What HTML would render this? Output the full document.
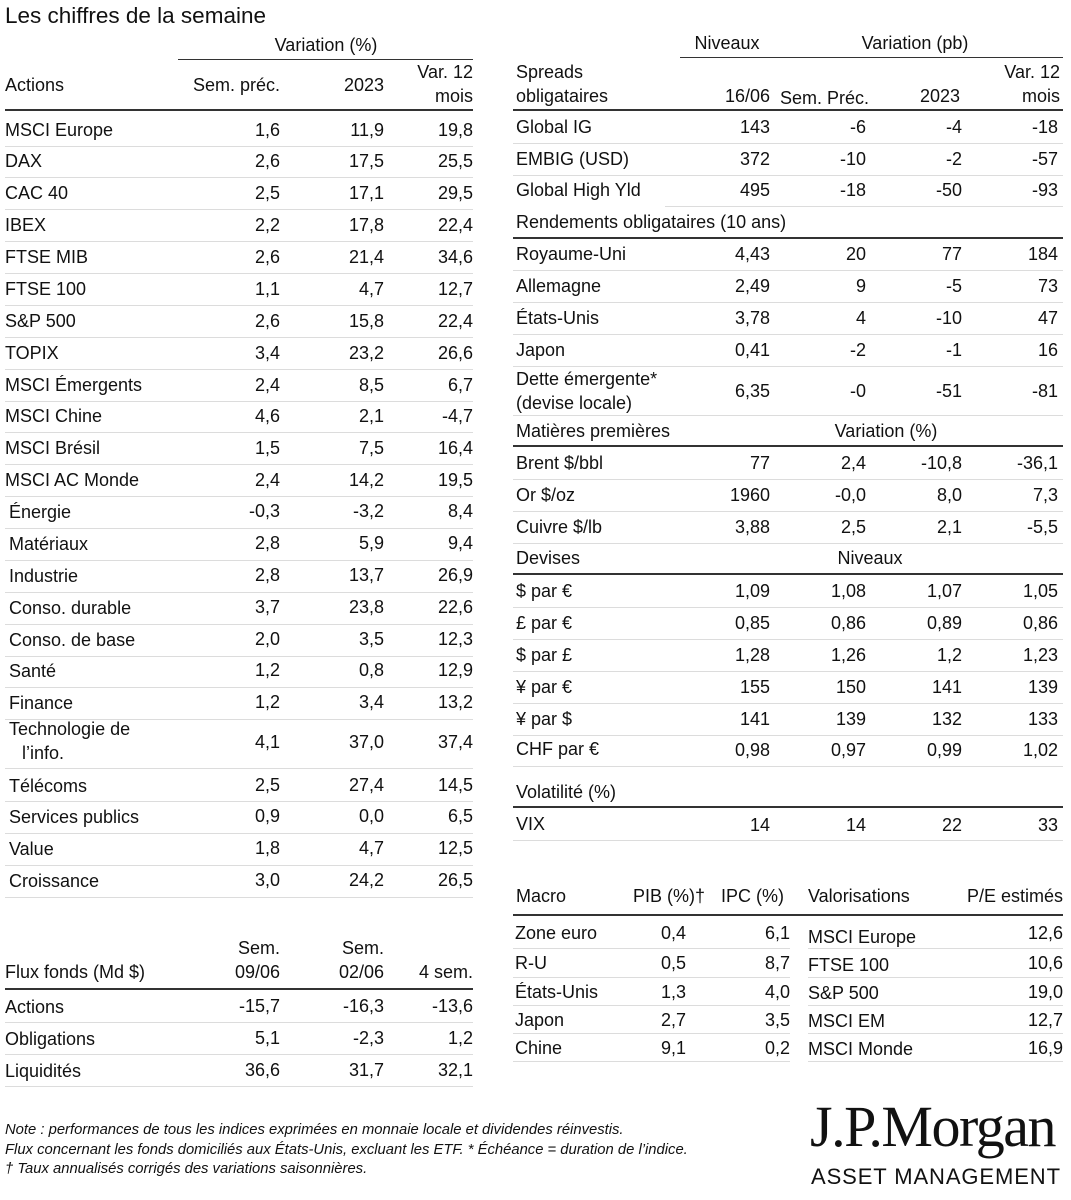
<!DOCTYPE html>
<html><head><meta charset="utf-8"><style>
body{margin:0;width:1071px;height:1200px;background:#fff;position:relative;overflow:hidden;font-family:"Liberation Sans",sans-serif;font-size:18px;color:#111}
.t{position:absolute;line-height:22px;white-space:nowrap}
.h{position:absolute;height:0;border-top:1px solid #dcdcdc}
.k{position:absolute;height:0;border-top:2px solid #333}
</style></head><body>
<div class="t" style="left:5px;top:5px;font-size:22.5px">Les chiffres de la semaine</div>

<!-- Left header -->
<div class="t" style="left:226px;top:34px;width:200px;text-align:center">Variation (%)</div>
<div class="k" style="left:178px;width:295px;top:59px;border-top-width:1.5px"></div>
<div class="t" style="left:5px;top:74px">Actions</div>
<div class="t" style="right:791px;top:74px">Sem. préc.</div>
<div class="t" style="right:687px;top:74px">2023</div>
<div class="t" style="right:598px;top:61px">Var. 12</div>
<div class="t" style="right:598px;top:85px">mois</div>
<div class="k" style="left:5px;width:468px;top:109px"></div>

<!-- Left rows -->
<div class="t" style="left:5px;top:119px">MSCI Europe</div><div class="t" style="right:791px;top:119px">1,6</div><div class="t" style="right:687px;top:119px">11,9</div><div class="t" style="right:598px;top:119px">19,8</div><div class="h" style="left:5px;width:468px;top:146px"></div>
<div class="t" style="left:5px;top:150px">DAX</div><div class="t" style="right:791px;top:150px">2,6</div><div class="t" style="right:687px;top:150px">17,5</div><div class="t" style="right:598px;top:150px">25,5</div><div class="h" style="left:5px;width:468px;top:177px"></div>
<div class="t" style="left:5px;top:182px">CAC 40</div><div class="t" style="right:791px;top:182px">2,5</div><div class="t" style="right:687px;top:182px">17,1</div><div class="t" style="right:598px;top:182px">29,5</div><div class="h" style="left:5px;width:468px;top:209px"></div>
<div class="t" style="left:5px;top:214px">IBEX</div><div class="t" style="right:791px;top:214px">2,2</div><div class="t" style="right:687px;top:214px">17,8</div><div class="t" style="right:598px;top:214px">22,4</div><div class="h" style="left:5px;width:468px;top:241px"></div>
<div class="t" style="left:5px;top:246px">FTSE MIB</div><div class="t" style="right:791px;top:246px">2,6</div><div class="t" style="right:687px;top:246px">21,4</div><div class="t" style="right:598px;top:246px">34,6</div><div class="h" style="left:5px;width:468px;top:273px"></div>
<div class="t" style="left:5px;top:278px">FTSE 100</div><div class="t" style="right:791px;top:278px">1,1</div><div class="t" style="right:687px;top:278px">4,7</div><div class="t" style="right:598px;top:278px">12,7</div><div class="h" style="left:5px;width:468px;top:305px"></div>
<div class="t" style="left:5px;top:310px">S&amp;P 500</div><div class="t" style="right:791px;top:310px">2,6</div><div class="t" style="right:687px;top:310px">15,8</div><div class="t" style="right:598px;top:310px">22,4</div><div class="h" style="left:5px;width:468px;top:337px"></div>
<div class="t" style="left:5px;top:342px">TOPIX</div><div class="t" style="right:791px;top:342px">3,4</div><div class="t" style="right:687px;top:342px">23,2</div><div class="t" style="right:598px;top:342px">26,6</div><div class="h" style="left:5px;width:468px;top:369px"></div>
<div class="t" style="left:5px;top:374px">MSCI Émergents</div><div class="t" style="right:791px;top:374px">2,4</div><div class="t" style="right:687px;top:374px">8,5</div><div class="t" style="right:598px;top:374px">6,7</div><div class="h" style="left:5px;width:468px;top:401px"></div>
<div class="t" style="left:5px;top:405px">MSCI Chine</div><div class="t" style="right:791px;top:405px">4,6</div><div class="t" style="right:687px;top:405px">2,1</div><div class="t" style="right:598px;top:405px">-4,7</div><div class="h" style="left:5px;width:468px;top:432px"></div>
<div class="t" style="left:5px;top:437px">MSCI Brésil</div><div class="t" style="right:791px;top:437px">1,5</div><div class="t" style="right:687px;top:437px">7,5</div><div class="t" style="right:598px;top:437px">16,4</div><div class="h" style="left:5px;width:468px;top:464px"></div>
<div class="t" style="left:5px;top:469px">MSCI AC Monde</div><div class="t" style="right:791px;top:469px">2,4</div><div class="t" style="right:687px;top:469px">14,2</div><div class="t" style="right:598px;top:469px">19,5</div><div class="h" style="left:5px;width:468px;top:496px"></div>
<div class="t" style="left:9px;top:501px">Énergie</div><div class="t" style="right:791px;top:500px">-0,3</div><div class="t" style="right:687px;top:500px">-3,2</div><div class="t" style="right:598px;top:500px">8,4</div><div class="h" style="left:5px;width:468px;top:528px"></div>
<div class="t" style="left:9px;top:533px">Matériaux</div><div class="t" style="right:791px;top:532px">2,8</div><div class="t" style="right:687px;top:532px">5,9</div><div class="t" style="right:598px;top:532px">9,4</div><div class="h" style="left:5px;width:468px;top:560px"></div>
<div class="t" style="left:9px;top:565px">Industrie</div><div class="t" style="right:791px;top:564px">2,8</div><div class="t" style="right:687px;top:564px">13,7</div><div class="t" style="right:598px;top:564px">26,9</div><div class="h" style="left:5px;width:468px;top:592px"></div>
<div class="t" style="left:9px;top:597px">Conso. durable</div><div class="t" style="right:791px;top:596px">3,7</div><div class="t" style="right:687px;top:596px">23,8</div><div class="t" style="right:598px;top:596px">22,6</div><div class="h" style="left:5px;width:468px;top:624px"></div>
<div class="t" style="left:9px;top:629px">Conso. de base</div><div class="t" style="right:791px;top:628px">2,0</div><div class="t" style="right:687px;top:628px">3,5</div><div class="t" style="right:598px;top:628px">12,3</div><div class="h" style="left:5px;width:468px;top:656px"></div>
<div class="t" style="left:9px;top:660px">Santé</div><div class="t" style="right:791px;top:659px">1,2</div><div class="t" style="right:687px;top:659px">0,8</div><div class="t" style="right:598px;top:659px">12,9</div><div class="h" style="left:5px;width:468px;top:687px"></div>
<div class="t" style="left:9px;top:692px">Finance</div><div class="t" style="right:791px;top:691px">1,2</div><div class="t" style="right:687px;top:691px">3,4</div><div class="t" style="right:598px;top:691px">13,2</div><div class="h" style="left:5px;width:468px;top:719px"></div>
<div class="t" style="left:9px;top:718px">Technologie de</div><div class="t" style="left:22px;top:742px">l’info.</div><div class="t" style="right:791px;top:731px">4,1</div><div class="t" style="right:687px;top:731px">37,0</div><div class="t" style="right:598px;top:731px">37,4</div><div class="h" style="left:5px;width:468px;top:768px"></div>
<div class="t" style="left:9px;top:775px">Télécoms</div><div class="t" style="right:791px;top:774px">2,5</div><div class="t" style="right:687px;top:774px">27,4</div><div class="t" style="right:598px;top:774px">14,5</div><div class="h" style="left:5px;width:468px;top:801px"></div>
<div class="t" style="left:9px;top:806px">Services publics</div><div class="t" style="right:791px;top:805px">0,9</div><div class="t" style="right:687px;top:805px">0,0</div><div class="t" style="right:598px;top:805px">6,5</div><div class="h" style="left:5px;width:468px;top:833px"></div>
<div class="t" style="left:9px;top:838px">Value</div><div class="t" style="right:791px;top:837px">1,8</div><div class="t" style="right:687px;top:837px">4,7</div><div class="t" style="right:598px;top:837px">12,5</div><div class="h" style="left:5px;width:468px;top:865px"></div>
<div class="t" style="left:9px;top:870px">Croissance</div><div class="t" style="right:791px;top:869px">3,0</div><div class="t" style="right:687px;top:869px">24,2</div><div class="t" style="right:598px;top:869px">26,5</div><div class="h" style="left:5px;width:468px;top:897px"></div>

<!-- Flux -->
<div class="t" style="right:791px;top:937px">Sem.</div><div class="t" style="right:791px;top:961px">09/06</div>
<div class="t" style="right:687px;top:937px">Sem.</div><div class="t" style="right:687px;top:961px">02/06</div>
<div class="t" style="right:598px;top:961px">4 sem.</div>
<div class="t" style="left:5px;top:961px">Flux fonds (Md $)</div>
<div class="k" style="left:5px;width:468px;top:988px"></div>
<div class="t" style="left:5px;top:996px">Actions</div><div class="t" style="right:791px;top:995px">-15,7</div><div class="t" style="right:687px;top:995px">-16,3</div><div class="t" style="right:598px;top:995px">-13,6</div><div class="h" style="left:5px;width:468px;top:1022px"></div>
<div class="t" style="left:5px;top:1028px">Obligations</div><div class="t" style="right:791px;top:1027px">5,1</div><div class="t" style="right:687px;top:1027px">-2,3</div><div class="t" style="right:598px;top:1027px">1,2</div><div class="h" style="left:5px;width:468px;top:1054px"></div>
<div class="t" style="left:5px;top:1060px">Liquidités</div><div class="t" style="right:791px;top:1059px">36,6</div><div class="t" style="right:687px;top:1059px">31,7</div><div class="t" style="right:598px;top:1059px">32,1</div><div class="h" style="left:5px;width:468px;top:1086px"></div>

<!-- Right header -->
<div class="t" style="left:677px;top:32px;width:100px;text-align:center">Niveaux</div>
<div class="t" style="left:835px;top:32px;width:160px;text-align:center">Variation (pb)</div>
<div class="k" style="left:680px;width:383px;top:57px;border-top-width:1.5px"></div>
<div class="t" style="left:516px;top:61px">Spreads</div><div class="t" style="left:516px;top:85px">obligataires</div>
<div class="t" style="right:301px;top:85px">16/06</div>
<div class="t" style="left:780px;top:87px">Sem. Préc.</div>
<div class="t" style="right:111px;top:85px">2023</div>
<div class="t" style="right:11px;top:61px">Var. 12</div><div class="t" style="right:11px;top:85px">mois</div>
<div class="k" style="left:513px;width:550px;top:109px"></div>

<div class="t" style="left:516px;top:116px">Global IG</div><div class="t" style="right:301px;top:116px">143</div><div class="t" style="right:205px;top:116px">-6</div><div class="t" style="right:109px;top:116px">-4</div><div class="t" style="right:13px;top:116px">-18</div><div class="h" style="left:513px;width:550px;top:143px"></div>
<div class="t" style="left:516px;top:148px">EMBIG (USD)</div><div class="t" style="right:301px;top:148px">372</div><div class="t" style="right:205px;top:148px">-10</div><div class="t" style="right:109px;top:148px">-2</div><div class="t" style="right:13px;top:148px">-57</div><div class="h" style="left:513px;width:550px;top:175px"></div>
<div class="t" style="left:516px;top:179px">Global High Yld</div><div class="t" style="right:301px;top:179px">495</div><div class="t" style="right:205px;top:179px">-18</div><div class="t" style="right:109px;top:179px">-50</div><div class="t" style="right:13px;top:179px">-93</div><div class="h" style="left:665px;width:398px;top:206px"></div>
<div class="t" style="left:516px;top:211px">Rendements obligataires (10 ans)</div>
<div class="k" style="left:513px;width:550px;top:237px"></div>
<div class="t" style="left:516px;top:243px">Royaume-Uni</div><div class="t" style="right:301px;top:243px">4,43</div><div class="t" style="right:205px;top:243px">20</div><div class="t" style="right:109px;top:243px">77</div><div class="t" style="right:13px;top:243px">184</div><div class="h" style="left:513px;width:550px;top:270px"></div>
<div class="t" style="left:516px;top:275px">Allemagne</div><div class="t" style="right:301px;top:275px">2,49</div><div class="t" style="right:205px;top:275px">9</div><div class="t" style="right:109px;top:275px">-5</div><div class="t" style="right:13px;top:275px">73</div><div class="h" style="left:513px;width:550px;top:302px"></div>
<div class="t" style="left:516px;top:307px">États-Unis</div><div class="t" style="right:301px;top:307px">3,78</div><div class="t" style="right:205px;top:307px">4</div><div class="t" style="right:109px;top:307px">-10</div><div class="t" style="right:13px;top:307px">47</div><div class="h" style="left:513px;width:550px;top:334px"></div>
<div class="t" style="left:516px;top:339px">Japon</div><div class="t" style="right:301px;top:339px">0,41</div><div class="t" style="right:205px;top:339px">-2</div><div class="t" style="right:109px;top:339px">-1</div><div class="t" style="right:13px;top:339px">16</div><div class="h" style="left:513px;width:550px;top:366px"></div>
<div class="t" style="left:516px;top:368px">Dette émergente*</div><div class="t" style="left:516px;top:392px">(devise locale)</div><div class="t" style="right:301px;top:380px">6,35</div><div class="t" style="right:205px;top:380px">-0</div><div class="t" style="right:109px;top:380px">-51</div><div class="t" style="right:13px;top:380px">-81</div><div class="h" style="left:513px;width:550px;top:415px"></div>
<div class="t" style="left:516px;top:420px">Matières premières</div><div class="t" style="left:806px;top:420px;width:160px;text-align:center">Variation (%)</div>
<div class="k" style="left:513px;width:550px;top:445px"></div>
<div class="t" style="left:516px;top:452px">Brent $/bbl</div><div class="t" style="right:301px;top:452px">77</div><div class="t" style="right:205px;top:452px">2,4</div><div class="t" style="right:109px;top:452px">-10,8</div><div class="t" style="right:13px;top:452px">-36,1</div><div class="h" style="left:513px;width:550px;top:479px"></div>
<div class="t" style="left:516px;top:484px">Or $/oz</div><div class="t" style="right:301px;top:484px">1960</div><div class="t" style="right:205px;top:484px">-0,0</div><div class="t" style="right:109px;top:484px">8,0</div><div class="t" style="right:13px;top:484px">7,3</div><div class="h" style="left:513px;width:550px;top:511px"></div>
<div class="t" style="left:516px;top:516px">Cuivre $/lb</div><div class="t" style="right:301px;top:516px">3,88</div><div class="t" style="right:205px;top:516px">2,5</div><div class="t" style="right:109px;top:516px">2,1</div><div class="t" style="right:13px;top:516px">-5,5</div><div class="h" style="left:513px;width:550px;top:543px"></div>
<div class="t" style="left:516px;top:547px">Devises</div><div class="t" style="left:820px;top:547px;width:100px;text-align:center">Niveaux</div>
<div class="k" style="left:513px;width:550px;top:573px"></div>
<div class="t" style="left:516px;top:580px">$ par €</div><div class="t" style="right:301px;top:580px">1,09</div><div class="t" style="right:205px;top:580px">1,08</div><div class="t" style="right:109px;top:580px">1,07</div><div class="t" style="right:13px;top:580px">1,05</div><div class="h" style="left:513px;width:550px;top:607px"></div>
<div class="t" style="left:516px;top:612px">£ par €</div><div class="t" style="right:301px;top:612px">0,85</div><div class="t" style="right:205px;top:612px">0,86</div><div class="t" style="right:109px;top:612px">0,89</div><div class="t" style="right:13px;top:612px">0,86</div><div class="h" style="left:513px;width:550px;top:639px"></div>
<div class="t" style="left:516px;top:644px">$ par £</div><div class="t" style="right:301px;top:644px">1,28</div><div class="t" style="right:205px;top:644px">1,26</div><div class="t" style="right:109px;top:644px">1,2</div><div class="t" style="right:13px;top:644px">1,23</div><div class="h" style="left:513px;width:550px;top:671px"></div>
<div class="t" style="left:516px;top:676px">¥ par €</div><div class="t" style="right:301px;top:676px">155</div><div class="t" style="right:205px;top:676px">150</div><div class="t" style="right:109px;top:676px">141</div><div class="t" style="right:13px;top:676px">139</div><div class="h" style="left:513px;width:550px;top:703px"></div>
<div class="t" style="left:516px;top:708px">¥ par $</div><div class="t" style="right:301px;top:708px">141</div><div class="t" style="right:205px;top:708px">139</div><div class="t" style="right:109px;top:708px">132</div><div class="t" style="right:13px;top:708px">133</div><div class="h" style="left:513px;width:550px;top:735px"></div>
<div class="t" style="left:516px;top:738px">CHF par €</div><div class="t" style="right:301px;top:739px">0,98</div><div class="t" style="right:205px;top:739px">0,97</div><div class="t" style="right:109px;top:739px">0,99</div><div class="t" style="right:13px;top:739px">1,02</div><div class="h" style="left:513px;width:550px;top:766px"></div>
<div class="t" style="left:516px;top:781px">Volatilité (%)</div>
<div class="k" style="left:513px;width:550px;top:806px"></div>
<div class="t" style="left:516px;top:813px">VIX</div><div class="t" style="right:301px;top:814px">14</div><div class="t" style="right:205px;top:814px">14</div><div class="t" style="right:109px;top:814px">22</div><div class="t" style="right:13px;top:814px">33</div><div class="h" style="left:513px;width:550px;top:840px"></div>

<!-- Macro / Valorisations -->
<div class="t" style="left:516px;top:885px">Macro</div><div class="t" style="right:366px;top:885px">PIB (%)†</div><div class="t" style="right:287px;top:885px">IPC (%)</div>
<div class="t" style="left:808px;top:885px">Valorisations</div><div class="t" style="right:8px;top:885px">P/E estimés</div>
<div class="k" style="left:513px;width:550px;top:914px"></div>
<div class="t" style="left:515px;top:922px">Zone euro</div><div class="t" style="right:385px;top:922px">0,4</div><div class="t" style="right:281px;top:922px">6,1</div><div class="h" style="left:513px;width:277px;top:948px"></div>
<div class="t" style="left:515px;top:952px">R-U</div><div class="t" style="right:385px;top:952px">0,5</div><div class="t" style="right:281px;top:952px">8,7</div><div class="h" style="left:513px;width:277px;top:977px"></div>
<div class="t" style="left:515px;top:981px">États-Unis</div><div class="t" style="right:385px;top:981px">1,3</div><div class="t" style="right:281px;top:981px">4,0</div><div class="h" style="left:513px;width:277px;top:1005px"></div>
<div class="t" style="left:515px;top:1009px">Japon</div><div class="t" style="right:385px;top:1009px">2,7</div><div class="t" style="right:281px;top:1009px">3,5</div><div class="h" style="left:513px;width:277px;top:1033px"></div>
<div class="t" style="left:515px;top:1037px">Chine</div><div class="t" style="right:385px;top:1037px">9,1</div><div class="t" style="right:281px;top:1037px">0,2</div><div class="h" style="left:513px;width:277px;top:1061px"></div>
<div class="t" style="left:808px;top:926px">MSCI Europe</div><div class="t" style="right:8px;top:922px">12,6</div><div class="h" style="left:808px;width:255px;top:948px"></div>
<div class="t" style="left:808px;top:954px">FTSE 100</div><div class="t" style="right:8px;top:952px">10,6</div><div class="h" style="left:808px;width:255px;top:977px"></div>
<div class="t" style="left:808px;top:982px">S&amp;P 500</div><div class="t" style="right:8px;top:981px">19,0</div><div class="h" style="left:808px;width:255px;top:1005px"></div>
<div class="t" style="left:808px;top:1010px">MSCI EM</div><div class="t" style="right:8px;top:1009px">12,7</div><div class="h" style="left:808px;width:255px;top:1033px"></div>
<div class="t" style="left:808px;top:1038px">MSCI Monde</div><div class="t" style="right:8px;top:1037px">16,9</div><div class="h" style="left:808px;width:255px;top:1061px"></div>

<!-- Notes -->
<div class="t" style="left:5px;top:1121px;font-size:14.8px;font-style:italic;line-height:19.5px">Note : performances de tous les indices exprimées en monnaie locale et dividendes réinvestis.<br>Flux concernant les fonds domiciliés aux États-Unis, excluant les ETF. * Échéance = duration de l’indice.<br>† Taux annualisés corrigés des variations saisonnières.</div>

<div class="t" style="left:810px;top:1096px;font-family:'Liberation Serif',serif;font-size:58px;line-height:62px;letter-spacing:-1.5px">J.P.Morgan</div>
<div class="t" style="left:811px;top:1164px;font-size:22px;line-height:26px;letter-spacing:0.9px">ASSET MANAGEMENT</div>
</body></html>
